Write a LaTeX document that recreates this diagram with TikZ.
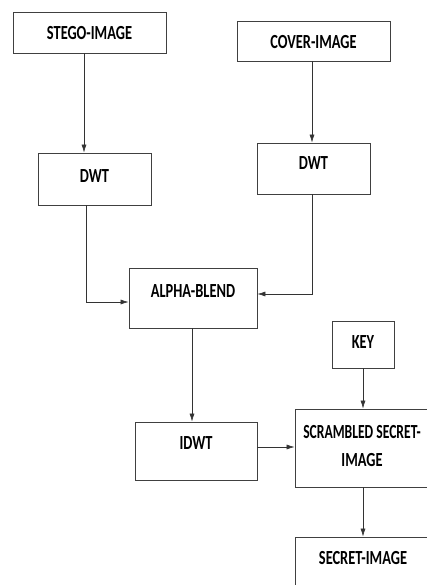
\documentclass[tikz,border=0pt]{standalone}
\usepackage{fontspec}
\setmainfont{Carlito}
\usepackage{tikz}
\usetikzlibrary{arrows.meta}
\usetikzlibrary{calc}
\definecolor{boxgray}{rgb}{0.25, 0.25, 0.25}
\definecolor{linegray}{rgb}{0.2, 0.2, 0.2}
\newcommand{\sx}[1]{\scalebox{0.72}[1]{#1}}

\begin{document}
\begin{tikzpicture}[x=1pt, y=-1pt,
    blk/.style={draw=boxgray, line width=0.9pt, fill=white, inner sep=0pt},
    txt/.style={font=\fontsize{20}{28}\selectfont\bfseries, inner sep=0pt, align=center},
    arr/.style={draw=linegray, line width=0.6pt, -{Latex[length=8pt, width=5pt]}}]
    \clip (0,0) rectangle (427,585);

    % boxes
    \node[blk, minimum width=153pt, minimum height=41pt] (stego) at (89.5,32.5) {};
    \node[blk, minimum width=153pt, minimum height=40pt] (cover) at (313.5,41) {};
    \node[blk, minimum width=113pt, minimum height=52pt] (dwtA) at (94.5,179) {};
    \node[blk, minimum width=113pt, minimum height=51pt] (dwtB) at (313.5,168.5) {};
    \node[blk, minimum width=128pt, minimum height=60pt] (alpha) at (193,298) {};
    \node[blk, minimum width=62pt, minimum height=47pt] (key) at (363,344.5) {};
    \node[blk, minimum width=122pt, minimum height=58pt] (idwt) at (196,451) {};
    \node[blk, minimum width=136pt, minimum height=78pt] (scr) at (363,448) {};
    \node[blk, minimum width=136pt, minimum height=60pt] (secret) at (363,567) {};

    % texts
    \node[txt] (stego-t) at (89.5,33) {\sx{STEGO-IMAGE}};
    \node[txt] (cover-t) at (313.5,42) {\sx{COVER-IMAGE}};
    \node[txt] (dwtA-t) at (94.5,176) {\sx{DWT}};
    \node[txt] (dwtB-t) at (313.5,163) {\sx{DWT}};
    \node[txt] (alpha-t) at (193,291) {\sx{ALPHA-BLEND}};
    \node[txt] (key-t) at (363,342) {\sx{KEY}};
    \node[txt] (idwt-t) at (196,443) {\sx{IDWT}};
    \node[txt] (scr-t) at (362,446) {\scalebox{0.68}[1]{SCRAMBLED SECRET-}\\\sx{IMAGE}};
    \node[txt] (secret-t) at (363,558) {\sx{SECRET-IMAGE}};

    % connectors
    \draw[arr] ([xshift=-5.5pt]stego.south) -- ([xshift=-5.5pt]stego.south |- dwtA.north);
    \draw[arr] ([xshift=-1.5pt]cover.south) -- ([xshift=-1.5pt]cover.south |- dwtB.north);
    \draw[arr] ([xshift=-8.5pt]dwtA.south) |- ([yshift=-4pt]alpha.west);
    \draw[arr] ([xshift=-1.5pt]dwtB.south) |- ([yshift=4pt]alpha.east);
    \draw[arr] ([xshift=-1pt]alpha.south) -- ([xshift=-1pt]alpha.south |- idwt.north);
    \draw[arr] ([yshift=4pt]idwt.east) -- ([yshift=4pt]idwt.east -| scr.west);
    \draw[arr] (key) -- (scr);
    \draw[arr] (scr) -- (secret);
\end{tikzpicture}
\end{document}
